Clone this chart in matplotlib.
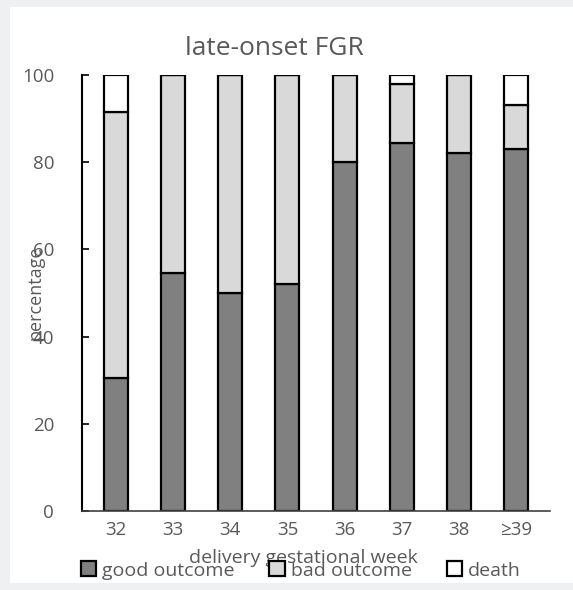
import numpy as np
import matplotlib.pyplot as plt
from matplotlib.patches import Rectangle

plt.rcParams['font.family'] = ['Open Sans', 'DejaVu Sans']

# datos
weeks = ['32', '33', '34', '35', '36', '37', '38', '≥39']
good = [30.5, 54.5, 50.0, 52.0, 80.0, 84.5, 82.0, 83.0]
bad = [61.0, 45.5, 50.0, 48.0, 20.0, 13.5, 18.0, 10.0]
death = [8.5, 0.0, 0.0, 0.0, 0.0, 2.0, 0.0, 7.0]

fig = plt.figure(figsize=(5.73, 5.90), dpi=100, facecolor='#eff0f2')
fig.add_artist(Rectangle((10/573, 7/590), 1, 576/590, transform=fig.transFigure,
                         facecolor='white', edgecolor='none', zorder=-10))
ax = fig.add_axes([0.143, 0.134, 0.817, 0.739])
ax.set_facecolor('none')

x = np.arange(len(weeks))
w = 0.42
good = np.array(good)
bad = np.array(bad)
death = np.array(death)
ax.bar(x, good, w, color='#808080', edgecolor='black', linewidth=1.6, label='good outcome')
ax.bar(x, bad, w, bottom=good, color='#d9d9d9', edgecolor='black', linewidth=1.6, label='bad outcome')
ax.bar(x, death, w, bottom=good + bad, color='white', edgecolor='black', linewidth=1.6, label='death')

ax.set_xlim(-0.6, 7.6)
ax.set_ylim(0, 100)
ax.set_yticks([0, 20, 40, 60, 80, 100])
ax.set_xticks(x)
ax.set_xticklabels(weeks)
ax.tick_params(axis='y', direction='in', length=5, width=1.2, pad=20, labelsize=13.5, labelcolor='#595959')
ax.tick_params(axis='x', length=0, pad=7, labelsize=13.5, labelcolor='#595959')
for s in ['top', 'right']:
    ax.spines[s].set_visible(False)
ax.spines['left'].set_linewidth(1.5)
ax.spines['bottom'].set_linewidth(1.2)
ax.spines['bottom'].set_color('#404040')

ax.set_title('late-onset FGR', fontsize=19, color='#595959', pad=14, x=0.41)
ax.set_xlabel('delivery gestational week', fontsize=14, color='#595959')
ax.xaxis.set_label_coords(0.473, -0.088)
ax.set_ylabel('percentage', fontsize=13, color='#595959')
ax.yaxis.set_label_coords(-0.08, 0.5)

ax.legend(loc='center', bbox_to_anchor=(0.525, 0.033), bbox_transform=fig.transFigure,
          ncol=3, frameon=False, fontsize=14, handlelength=0.8, handleheight=0.8,
          handletextpad=0.3, columnspacing=1.8, labelcolor='#595959',
          borderaxespad=0, borderpad=0)

plt.savefig('out.png', dpi=100, facecolor=fig.get_facecolor())
